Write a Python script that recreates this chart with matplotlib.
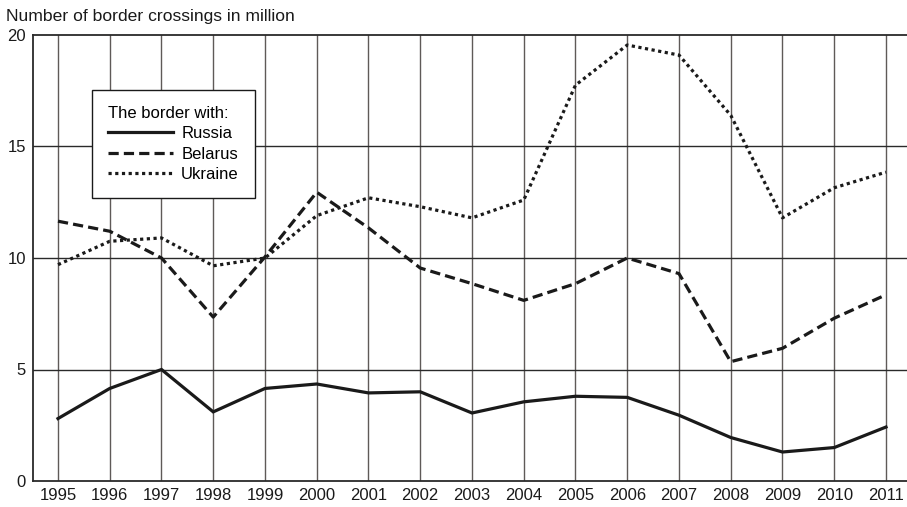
import matplotlib
matplotlib.use("Agg")
import matplotlib.pyplot as plt

years = list(range(1995, 2012))
russia = [2.8, 4.15, 5.0, 3.1, 4.15, 4.35, 3.95, 4.0, 3.05, 3.55, 3.8, 3.75, 2.95, 1.95, 1.3, 1.5, 2.42]
belarus = [11.65, 11.2, 10.0, 7.35, 10.05, 12.95, 11.35, 9.55, 8.85, 8.1, 8.85, 10.0, 9.3, 5.35, 5.95, 7.3, 8.35]
ukraine = [9.7, 10.75, 10.9, 9.65, 10.0, 11.9, 12.7, 12.3, 11.8, 12.6, 17.75, 19.55, 19.1, 16.4, 11.8, 13.15, 13.85]
yticks = [0, 5, 10, 15, 20]

plt.rcParams['font.family'] = ['Liberation Sans', 'DejaVu Sans']
FS = 12

fig = plt.figure(figsize=(9.07, 5.07), dpi=100)
ax = fig.add_axes([33/907, 1-481/507, 874/907, (481-35)/507])

ax.set_xlim(1994.517, 2011.406)
ax.set_ylim(0, 20)

ax.set_xticks(years)
ax.set_xticklabels([str(y) for y in years], fontsize=FS, color='#1a1a1a')
ax.set_yticks(yticks)
ax.set_yticklabels([str(v) for v in yticks], fontsize=FS, color='#1a1a1a')
ax.tick_params(length=0, pad=5)
ax.tick_params(axis='x', pad=5)

for y in years:
    ax.axvline(y, color='#5f5a58', lw=1.0, zorder=1)
for v in [5, 10, 15]:
    ax.axhline(v, color='#2a2a2a', lw=1.0, zorder=1)

for s in ['left', 'top', 'bottom']:
    ax.spines[s].set_linewidth(1.3)
    ax.spines[s].set_color('#2a2a2a')
ax.spines['right'].set_visible(False)

ax.plot(years, russia, color='#1a1a1a', lw=2.3, solid_joinstyle='miter', label='Russia', zorder=3)
ax.plot(years, belarus, color='#1a1a1a', lw=2.3, dashes=(3.2, 1.6), dash_capstyle='butt', label='Belarus', zorder=3)
ax.plot(years, ukraine, color='#1a1a1a', lw=2.3, dashes=(1.0, 1.1), dash_capstyle='butt', label='Ukraine', zorder=3)

leg = ax.legend(loc='lower left', bbox_to_anchor=((92-33)/874, (481-198)/446),
                title='The border with:', fontsize=FS, title_fontsize=FS,
                frameon=True, fancybox=False, edgecolor='#1a1a1a', framealpha=1,
                handlelength=3.9, handletextpad=0.5, labelspacing=0.33,
                borderpad=0.95, borderaxespad=0)
leg.get_frame().set_linewidth(1.0)
leg._legend_box.align = 'left'

fig.text(6/907, 1-16/507, 'Number of border crossings in million', fontsize=12.6, va='center', ha='left', color='#1a1a1a')

fig.savefig('out.png', dpi=100)
